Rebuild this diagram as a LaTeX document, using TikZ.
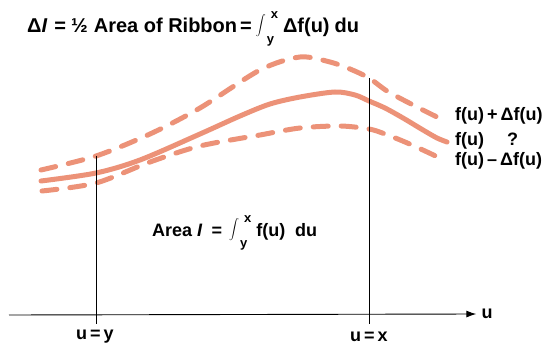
\documentclass[tikz,border=0pt]{standalone}
\usepackage{fontspec}
\setmainfont{Liberation Sans}
\usetikzlibrary{arrows.meta}
\definecolor{salmon}{RGB}{236,146,120}
\newcommand{\limtxt}[1]{\hbox{\fontsize{13}{13}\selectfont\bfseries #1}}
\newcommand{\myint}{\raisebox{4pt}{\fontsize{15.5}{15.5}\selectfont$\displaystyle\int$}\hspace{1pt}\rlap{\hspace{4pt}\raisebox{14pt}{\limtxt{x}}}\raisebox{-11pt}{\limtxt{y}}}
\tikzset{
  curve/.style={salmon, line width=5pt, line cap=round},
  dashcurve/.style={curve, dash pattern=on 15pt off 13pt},
  lbl/.style={font=\bfseries\fontsize{18}{20}\selectfont, inner sep=0pt},
  biglbl/.style={font=\bfseries\fontsize{20}{22}\selectfont, inner sep=0pt},
  thin/.style={black, line width=0.9pt}
}
\begin{document}
\begin{tikzpicture}[x=1pt,y=-1pt]
\useasboundingbox (0,0) rectangle (547,344);
% curves
\draw[dashcurve] plot[smooth, tension=0.5] coordinates {(41,170) (96,156) (150,134) (200,108) (260,70) (300,57) (330,62) (350,69) (369,78) (387,91) (413,105) (447,122)};
\draw[curve] plot[smooth, tension=0.5] coordinates {(41,181) (96,173) (140,160) (200,134) (240,116) (270,104) (300,97) (335,92) (355,95) (369,101) (385,108) (403,118) (423,130) (437,138) (447,142)};
\draw[dashcurve] plot[smooth, tension=0.5] coordinates {(42,191) (96,183) (150,162) (200,146) (260,135) (300,128) (340,126) (369,129) (385,134) (405,142) (425,151) (444,160)};
% vertical lines
\coordinate (ytop) at (96,156);
\coordinate (ybot) at (96,324);
\coordinate (xtop) at (369,78);
\coordinate (xbot) at (369,324);
\draw[thin] (ytop) -- (ybot);
\draw[thin] (xtop) -- (xbot);
% axis
\coordinate (ax0) at (9,315);
\node[lbl] (ulab) at (487,314) {u};
\draw[thin, -{Latex[length=10pt,width=7pt]}, shorten >=5pt] (ax0) -- (ulab.west);
\node[lbl] (uy) at (95,337) {u\,=\,y};
\node[lbl] (ux) at (369,337) {u\,=\,x};
% labels
\node[lbl, anchor=base west] (fp) at (455,121) {f(u)\,+\,Δf(u)};
\node[lbl, anchor=base west] (f0) at (455,146) {f(u)\quad\ ?};
\node[lbl, anchor=base west] (fm) at (455,166) {f(u)\,–\,Δf(u)};
\node[lbl, anchor=base west] (area) at (152,237) {Area \textit{I}\hspace{9pt}=\hspace{7pt}\myint\hspace{9pt}f(u)\hspace{10pt}du};
\node[biglbl, anchor=base west] (title) at (27,33) {Δ\textit{I}\hspace{7pt}=\hspace{5pt}½\hspace{6pt}Area of Ribbon\hspace{3pt}=\hspace{4pt}\myint\hspace{9pt}Δf(u)\hspace{5pt}du};
\end{tikzpicture}
\end{document}
